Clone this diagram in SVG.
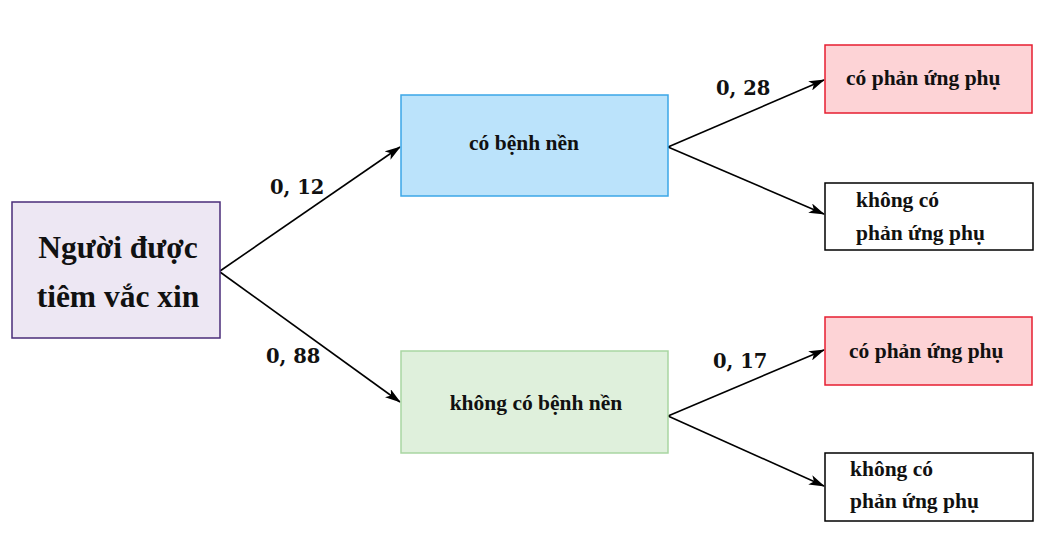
<svg xmlns="http://www.w3.org/2000/svg" width="1063" height="558" viewBox="0 0 1063 558">
<style>
text{font-family:"Liberation Serif","DejaVu Serif",serif;font-weight:bold;fill:#111}
.root{font-size:31.5px}
.mid{font-size:21.5px}
.leaf{font-size:21.5px}
.lbl{font-family:"DejaVu Serif","Liberation Serif",serif;font-size:19.5px}
.edge{stroke:#000;stroke-width:1.6;fill:none;marker-end:url(#ah)}
</style>
<defs>
<marker id="ah" viewBox="0 0 16 10" refX="15" refY="5" markerWidth="16" markerHeight="10" markerUnits="userSpaceOnUse" orient="auto">
<path d="M0,0 L16,5 L0,10 L4,5 Z" fill="#000"/>
</marker>
</defs>
<rect width="1063" height="558" fill="#fff"/>
<g id="connectors">
<line class="edge" x1="220" y1="271" x2="400" y2="147"/>
<line class="edge" x1="220" y1="272" x2="400" y2="402"/>
<line class="edge" x1="668" y1="147" x2="824" y2="80"/>
<line class="edge" x1="668" y1="147" x2="824" y2="214"/>
<line class="edge" x1="668" y1="416" x2="824" y2="350"/>
<line class="edge" x1="668" y1="416" x2="824" y2="486"/>
<text class="lbl" x="270" y="194">0, 12</text>
<text class="lbl" x="266" y="363">0, 88</text>
<text class="lbl" x="716" y="95">0, 28</text>
<text class="lbl" x="713" y="368">0, 17</text>
</g>
<g id="root">
<rect x="12" y="202" width="208" height="136" fill="#ede7f3" stroke="#4a2d79" stroke-width="1.5"/>
<text class="root" x="118" y="258" text-anchor="middle">Người được</text>
<text class="root" x="118" y="307" text-anchor="middle">tiêm vắc xin</text>
</g>
<g id="n1">
<rect x="401" y="95" width="267" height="101" fill="#bbe3fb" stroke="#3ba7e7" stroke-width="1.5"/>
<text class="mid" x="524" y="150" text-anchor="middle">có bệnh nền</text>
</g>
<g id="n2">
<rect x="401" y="351" width="267" height="102" fill="#dff0dc" stroke="#a9d6a2" stroke-width="1.5"/>
<text class="mid" x="536" y="410" text-anchor="middle">không có bệnh nền</text>
</g>
<g id="n3">
<rect x="825" y="45" width="207" height="68" fill="#fdd3d6" stroke="#e61e30" stroke-width="1.5"/>
<text class="leaf" x="846" y="85">có phản ứng phụ</text>
</g>
<g id="n4">
<rect x="825" y="183" width="208" height="67" fill="#fff" stroke="#000" stroke-width="1.5"/>
<text class="leaf" x="856" y="207">không có</text>
<text class="leaf" x="856" y="240">phản ứng phụ</text>
</g>
<g id="n5">
<rect x="825" y="317" width="207" height="68" fill="#fdd3d6" stroke="#e61e30" stroke-width="1.5"/>
<text class="leaf" x="849" y="358">có phản ứng phụ</text>
</g>
<g id="n6">
<rect x="825" y="453" width="208" height="68" fill="#fff" stroke="#000" stroke-width="1.5"/>
<text class="leaf" x="850" y="476">không có</text>
<text class="leaf" x="850" y="508">phản ứng phụ</text>
</g>
</svg>
